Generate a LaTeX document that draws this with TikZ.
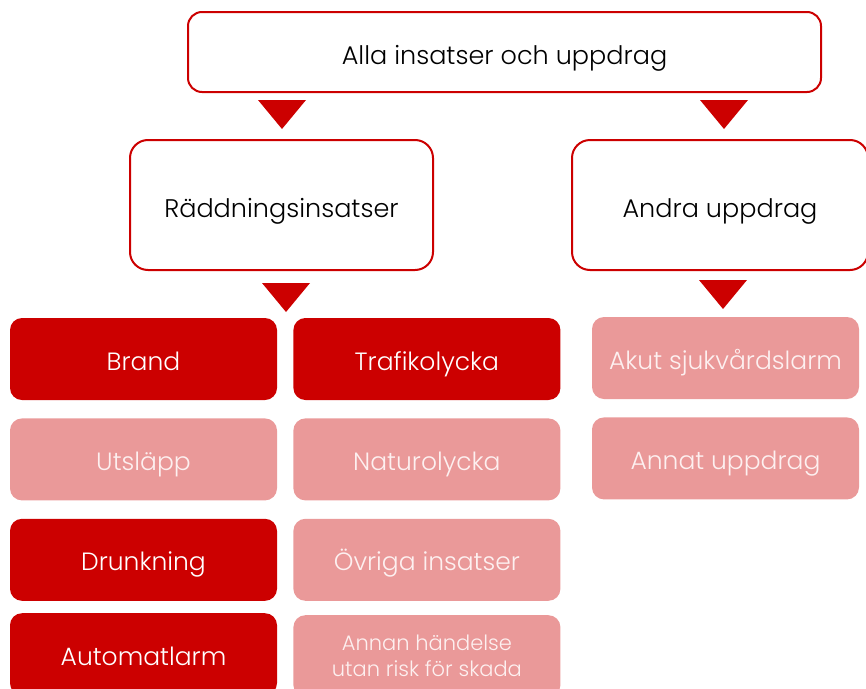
\documentclass[tikz,border=0pt]{standalone}
\usepackage{fontspec}
\setmainfont{Poppins}[UprightFont = * Light]
\usetikzlibrary{positioning}
\usetikzlibrary{calc}
\definecolor{darkred}{HTML}{CC0000}
\definecolor{lightred}{HTML}{EA9999}
\definecolor{paletext}{HTML}{FDF0F0}
\tikzset{
    headbox/.style = {rectangle,draw = darkred,line width = 2pt,fill = white,rounded corners = 14pt,text = black,font = \fontsize{25.5}{30}\selectfont,inner sep = 0pt,text height = 25pt,text depth = 0.5pt},
    mainbox/.style = {rectangle,fill = darkred,rounded corners = 12pt,text = white,minimum width = 267pt,minimum height = 82pt,font = \fontsize{25}{30}\selectfont,inner sep = 0pt,text height = 23pt,text depth = 1pt},
    palebox/.style = {mainbox,fill = lightred,text = paletext},
    pointer/.style = {fill = darkred}}

\begin{document}
\begin{tikzpicture}[x=1pt,y=-1pt]
        \useasboundingbox (0,0) rectangle (866,688);
        \clip (0,0) rectangle (866,688);
        \node[headbox,minimum width = 633pt,minimum height = 80pt] (all) at (504.5,52) {Alla insatser och uppdrag};
        \node[headbox,minimum width = 303pt,minimum height = 130pt,rounded corners = 18pt] (rescue) at (281.5,205) {R\"addningsinsatser};
        \node[headbox,minimum width = 296pt,minimum height = 130pt,rounded corners = 18pt] (other) at (720,205) {Andra uppdrag};
        % raddningsinsatser
        \node[mainbox] (brand) at (143.5,359) {Brand};
        \node[mainbox,right = 16pt of brand] (traffic) {Trafikolycka};
        \node[palebox,below = 18pt of brand] (spill) {Utsl\"app};
        \node[palebox,right = 16pt of spill] (nature) {Naturolycka};
        \node[mainbox,below = 18pt of spill] (drown) {Drunkning};
        \node[palebox,right = 16pt of drown] (misc) {\"Ovriga insatser};
        \node[mainbox,below = 12pt of drown] (alarm) {Automatlarm};
        \node[palebox,right = 16pt of alarm,align = center,text height = ,text depth = ,yshift = -2pt,font = \fontsize{21}{26}\selectfont] (norisk) {Annan h\"andelse\\utan risk f\"or skada};
        % andra uppdrag
        \node[palebox] (ambulance) at (725.5,358) {Akut sjukv\aa rdslarm};
        \node[palebox,below = 18pt of ambulance] (task) {Annat uppdrag};
        % pointers
        \coordinate (p1) at ($(rescue.north) + (0.5,-10)$);
        \coordinate (p2) at ($(other.north) + (4,-10)$);
        \coordinate (p3) at ($(rescue.south) + (4.5,41)$);
        \coordinate (p4) at ($(other.south) + (3,38)$);
        \foreach \p in {p1,p2,p3,p4}
            \fill[pointer] (\p) -- ++(-24,-29) -- ++(48,0) -- cycle;
\end{tikzpicture}
\end{document}
